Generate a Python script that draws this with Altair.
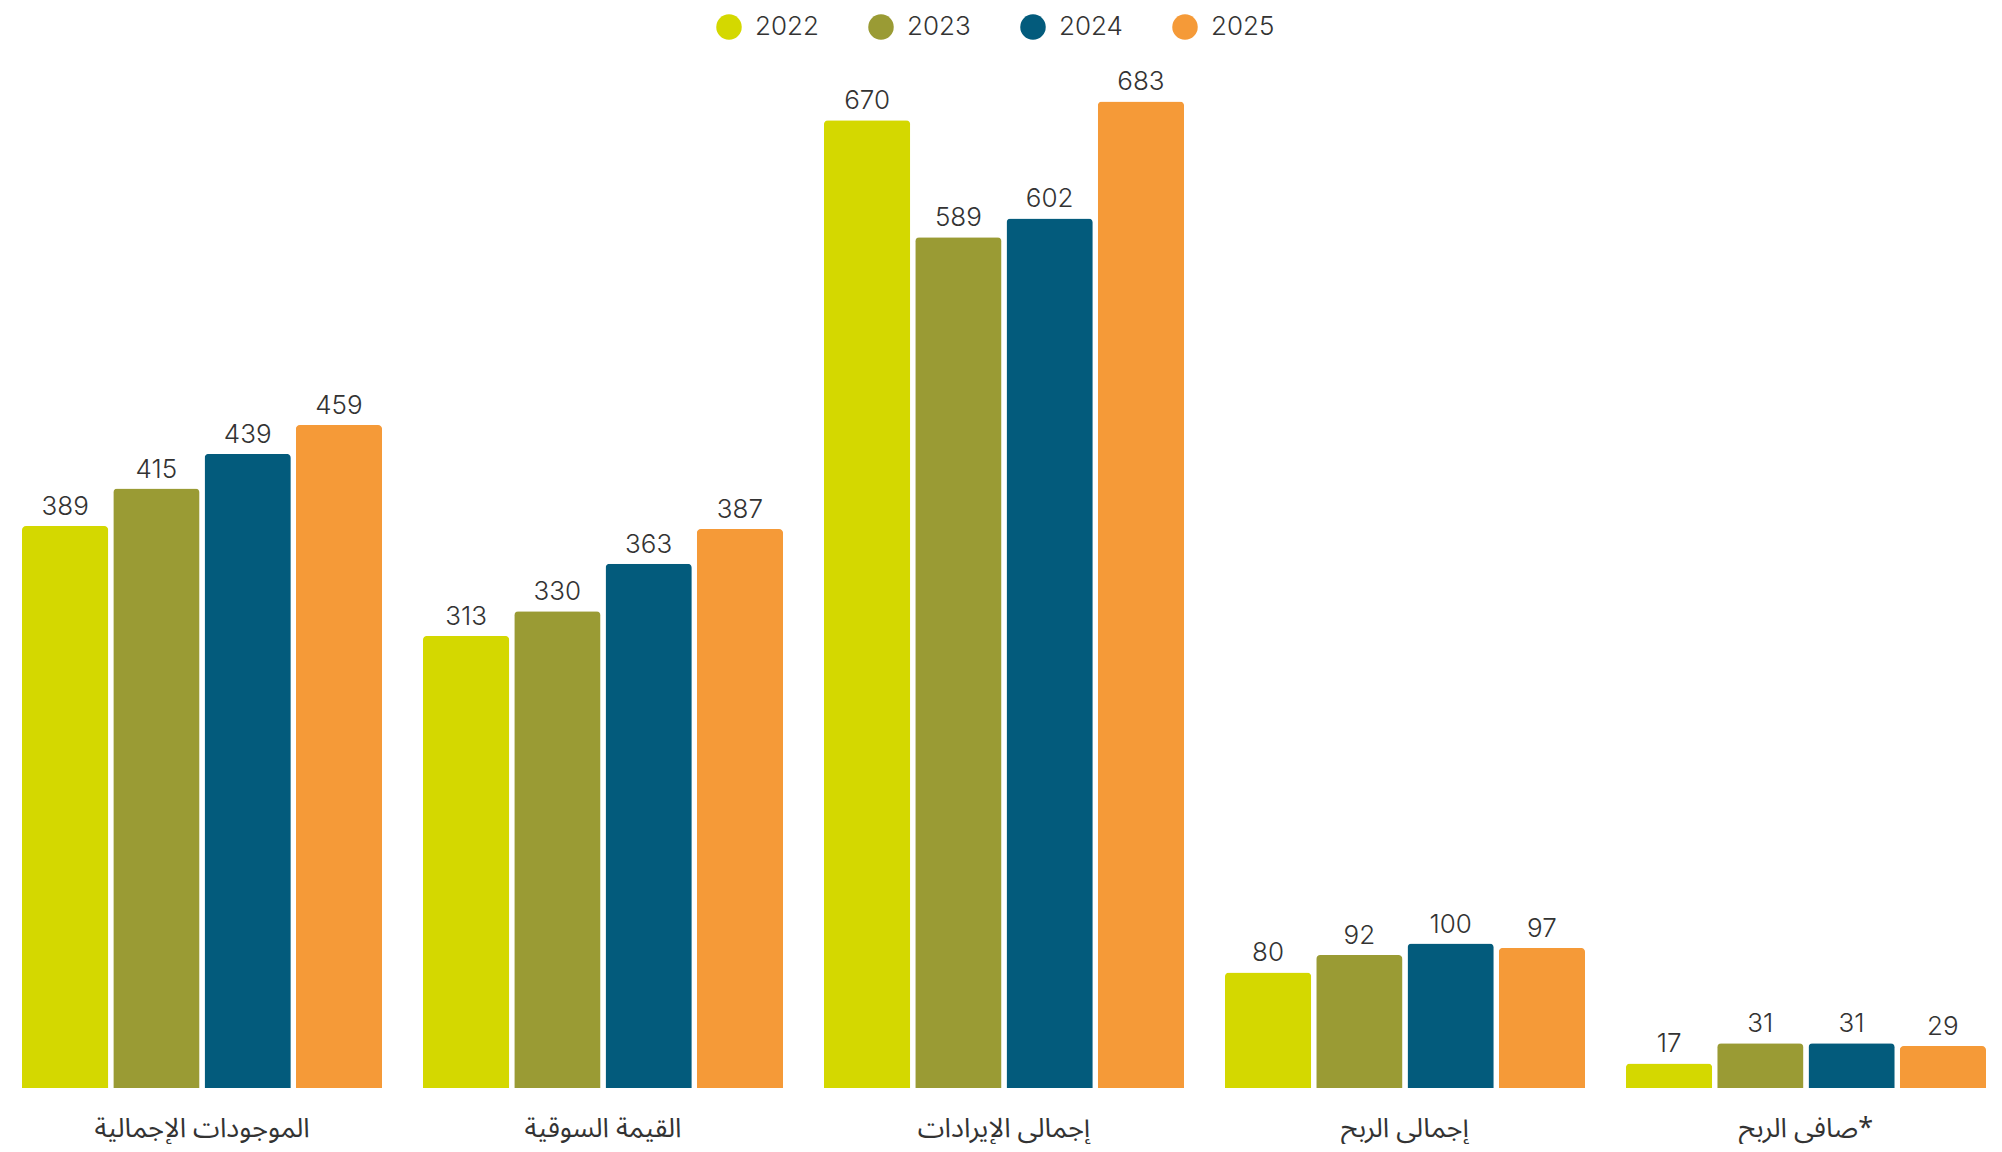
import altair as alt
import pandas as pd

categories = ["الموجودات الإجمالية", "القيمة السوقية", "إجمالي الإيرادات", "إجمالي الربح", "صافي الربح*"]
years = ["2022", "2023", "2024", "2025"]
v2022 = [389, 313, 670, 80, 17]
v2023 = [415, 330, 589, 92, 31]
v2024 = [439, 363, 602, 100, 31]
v2025 = [459, 387, 683, 97, 29]
colors = ["#d4d800", "#9a9b34", "#035b7c", "#f59a38"]

rows = []
for yr, vals in zip(years, [v2022, v2023, v2024, v2025]):
    for c, v in zip(categories, vals):
        rows.append({"category": c, "year": yr, "value": v})
df = pd.DataFrame(rows)

base = alt.Chart(df).encode(
    x=alt.X(
        "category:N",
        sort=categories,
        scale=alt.Scale(paddingInner=0.102, paddingOuter=0),
        axis=alt.Axis(
            title=None, domain=False, ticks=False, labelPadding=27,
            labelFontSize=27, labelColor="#333333", labelAngle=0, labelLimit=0,
            labelFont="Noto Sans Arabic, Noto Sans, DejaVu Sans",
        ),
    ),
    xOffset=alt.XOffset("year:N", sort=years, scale=alt.Scale(paddingInner=0.055, paddingOuter=0)),
)

bars = base.mark_bar(cornerRadiusTopLeft=4, cornerRadiusTopRight=4).encode(
    y=alt.Y("value:Q", scale=alt.Scale(domain=[0, 720], nice=False), axis=None),
    color=alt.Color(
        "year:N",
        sort=years,
        scale=alt.Scale(domain=years, range=colors),
        legend=alt.Legend(
            title=None, orient="none", legendX=694, legendY=-34,
            direction="horizontal", labelFontSize=26, labelColor="#333333",
            labelFont="Inter", labelFontWeight=300, symbolType="circle", symbolSize=650,
            labelOffset=13, columnPadding=49, symbolStrokeWidth=0,
        ),
    ),
)

text = base.mark_text(baseline="bottom", dy=-6, fontSize=26, fontWeight=300, color="#333333", font="Inter").encode(
    y=alt.Y("value:Q"),
    text=alt.Text("value:Q"),
)

chart = (
    (bars + text)
    .properties(
        width=1964,
        height=1040,
        autosize=alt.AutoSizeParams(type="none"),
        padding={"left": 14, "top": 40, "right": 6, "bottom": 56},
        background="#ffffff",
    )
    .configure_view(stroke=None)
)

chart.save("out.html", embed_options={"renderer": "svg", "actions": False})
